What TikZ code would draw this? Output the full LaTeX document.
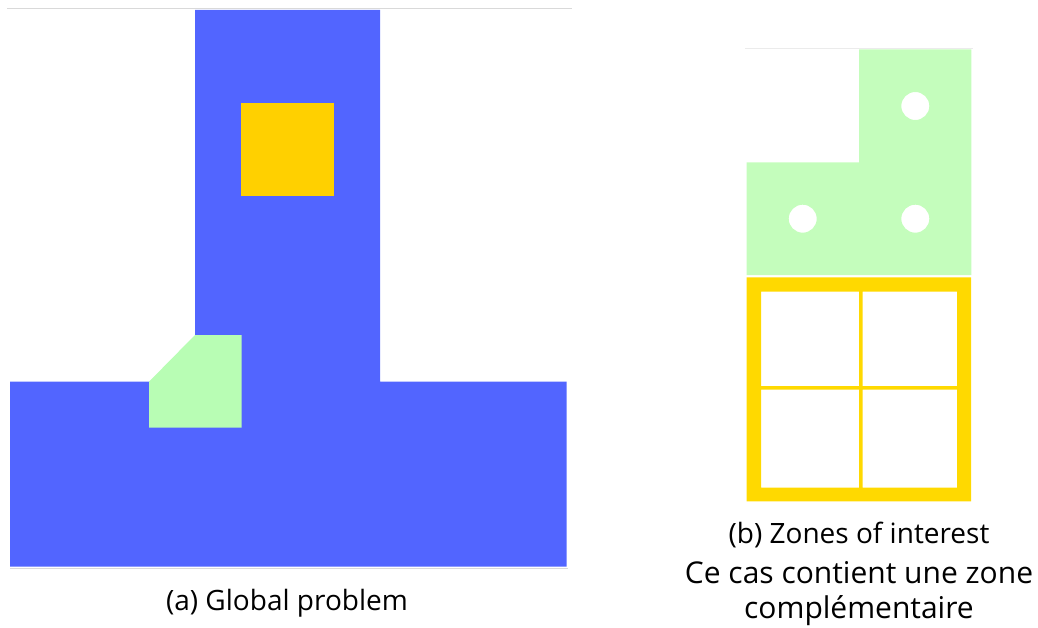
\documentclass[tikz,border=0pt]{standalone}
\usepackage{fontspec}
\setmainfont{Open Sans}
\usepackage{xcolor}
\usetikzlibrary{positioning}
\definecolor{bluezone}{RGB}{82,101,255}
\definecolor{greenzone}{RGB}{184,253,180}
\definecolor{greenlight}{RGB}{196,253,188}
\definecolor{yellowzone}{RGB}{255,208,0}
\definecolor{yellowframe}{RGB}{255,217,0}
\begin{document}
\begin{tikzpicture}[x=1pt,y=-1pt,
  axline/.style={draw=black!15,line width=1pt},
  captext/.style={font=\fontsize{28}{32}\selectfont,inner sep=0pt,align=center},
  capbig/.style={font=\fontsize{30}{35}\selectfont,inner sep=0pt,align=center}]
  \useasboundingbox (0,0) rectangle (1038,628);
  % global problem
  \draw[axline] (7,9)--(572,9);
  \draw[axline] (10,568)--(568,568);
  \fill[bluezone] (195,10)--(380,10)--(380,381.5)--(566.5,381.5)--(566.5,566.5)
    --(10,566.5)--(10,381.5)--(195,381.5)--cycle;
  \fill[yellowzone] (241,103.3) rectangle (334.3,195.7);
  \fill[greenzone] (195,335)--(241.7,335)--(241.7,427.7)--(149,427.7)--(149,381.7)--cycle;
  \node[captext](capa) at (287,603){(a) Global problem};
  % zones of interest
  \draw[axline,draw=black!8] (745,49)--(972.5,49);
  \fill[greenlight,even odd rule] (859,49.5)--(971.3,49.5)--(971.3,275)--(746.7,275)
    --(746.7,162.3)--(859,162.3)--cycle
    (915.3,106) circle (14) (802.7,218.7) circle (14) (915.3,218.7) circle (14);
  \fill[yellowframe,even odd rule] (746.7,277.3) rectangle (971,501.3)
    (761,291.7) rectangle (859,386) (862.7,291.7) rectangle (957,386)
    (761,389.7) rectangle (859,487.7) (862.7,389.7) rectangle (957,487.7);
  \node[captext](capb) at (859,535){(b) Zones of interest};
  \node[capbig](note) at (859,594){Ce cas contient une zone\\complémentaire};
\end{tikzpicture}
\end{document}
